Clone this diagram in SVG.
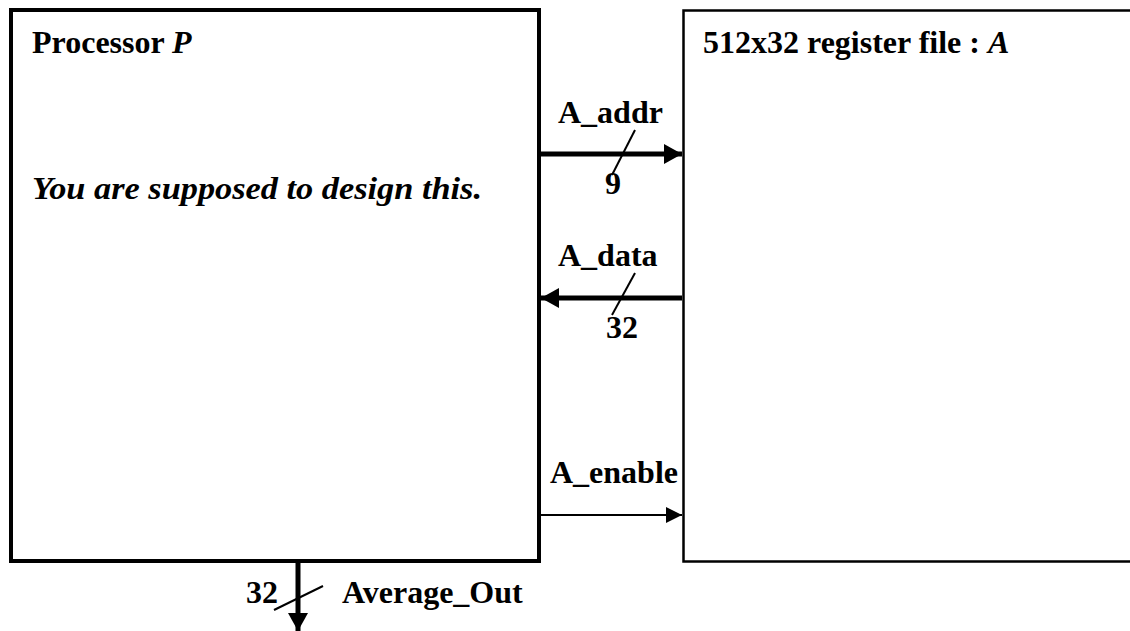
<svg xmlns="http://www.w3.org/2000/svg" width="1130" height="631" viewBox="0 0 1130 631">
<style>
text{font-family:"Liberation Serif","Times New Roman",serif;font-weight:bold;font-size:32px;fill:#000}
.it{font-style:italic}
.box{fill:#fff;stroke:#000}
.bus{stroke:#000;stroke-width:5;fill:none}
.wire{stroke:#000;stroke-width:2;fill:none}
.slash{stroke:#000;stroke-width:2;fill:none}
</style>
<defs>
<marker id="ah" markerUnits="userSpaceOnUse" markerWidth="18" markerHeight="20" refX="18" refY="10" orient="auto" viewBox="0 0 18 20">
<path d="M0,0 L18,10 L0,20 Z" fill="#000"/>
</marker>
<marker id="ahs" markerUnits="userSpaceOnUse" markerWidth="16" markerHeight="16" refX="16" refY="8" orient="auto" viewBox="0 0 16 16">
<path d="M0,0 L16,8 L0,16 Z" fill="#000"/>
</marker>
</defs>
<rect width="1130" height="631" fill="#fff"/>
<g id="processor">
<rect class="box" x="11" y="10" width="528" height="551" stroke-width="4"/>
<text x="32" y="53">Processor <tspan class="it">P</tspan></text>
<text x="32" y="199" class="it" textLength="450" lengthAdjust="spacingAndGlyphs">You are supposed to design this.</text>
</g>
<g id="regfile">
<rect class="box" x="683.5" y="10.5" width="460" height="551" stroke-width="2.5"/>
<text x="703" y="53">512x32 register file : <tspan class="it">A</tspan></text>
</g>
<g id="connectors">
<line class="bus" x1="541" y1="154" x2="682" y2="154" marker-end="url(#ah)"/>
<line class="slash" x1="635" y1="130" x2="612" y2="175"/>
<text x="558" y="123">A_addr</text>
<text x="605" y="194">9</text>
<line class="bus" x1="682" y1="298" x2="541" y2="298" marker-end="url(#ah)"/>
<line class="slash" x1="635" y1="273" x2="612" y2="315"/>
<text x="558" y="266">A_data</text>
<text x="606" y="338">32</text>
<line class="wire" x1="541" y1="515" x2="682" y2="515" marker-end="url(#ahs)"/>
<text x="550" y="483">A_enable</text>
<line class="bus" x1="298" y1="563" x2="298" y2="631" marker-end="url(#ah)"/>
<line class="slash" x1="274" y1="610" x2="323" y2="586"/>
<text x="246" y="603">32</text>
<text x="342" y="603">Average_Out</text>
</g>
</svg>
